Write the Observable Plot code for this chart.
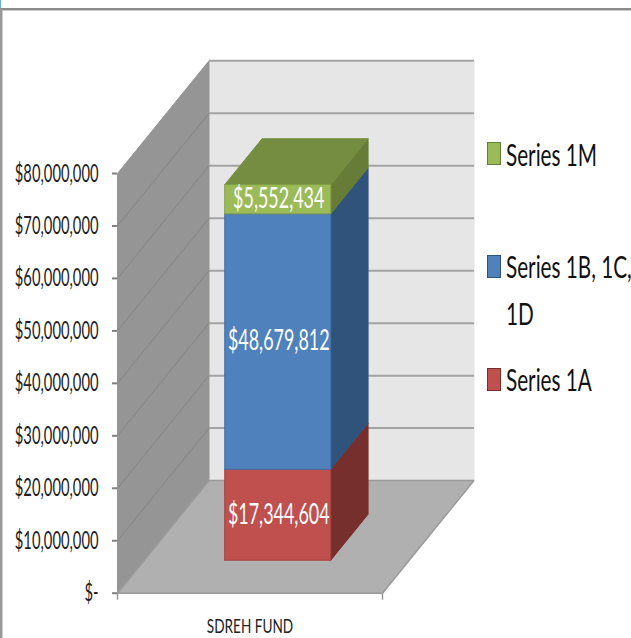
<!DOCTYPE html>
<html>
<head>
<meta charset="utf-8">
<script src="https://cdn.jsdelivr.net/npm/d3@7"></script>
<script src="https://cdn.jsdelivr.net/npm/@observablehq/plot@0.6"></script>
<style>
html,body{margin:0;padding:0;background:#fff;width:631px;height:638px;overflow:hidden}
#chart{position:absolute;left:0;top:0}
#page{position:absolute;left:0;top:8px;width:631px;height:630px;box-sizing:border-box;border-top:2px solid #8c8c8c;border-left:2px solid #999;box-shadow:inset 1px 1px 0 #ccc}
#corner{position:absolute;left:0;top:0;width:1px;height:8px;background:#6ea6e0}
.lg{position:absolute;left:506px;font:30px Lato,sans-serif;color:#111;white-space:nowrap;transform-origin:0 50%;line-height:30px}
.sw{position:absolute;left:487px;width:14px;height:23px;box-sizing:border-box;border:1.5px solid}
</style>
</head>
<body>
<div id="corner"></div>
<div id="page"></div>
<div id="chart"></div>
<script>
const seriesNames = ["Series 1A", "Series 1B, 1C, 1D", "Series 1M"];
const seriesValues = [17344604, 48679812, 5552434];
const frontColors = ["#c0504d", "#4f81bd", "#9bbb59"];
const sideColors = ["#772f2d", "#30537c", "#667c37"];
const edgeColors = ["#a8403d", "#3f6ea8", "#84a044"];
const topColor = "#758d40";
const yTicks = [0, 10e6, 20e6, 30e6, 40e6, 50e6, 60e6, 70e6, 80e6];
const categoryLabel = "SDREH FUND";

// Oblique projection of depth onto the two scales
const depthX = 0.3453, depthY = 21.47e6;
const P = (u, d, v) => ({x: u + depthX * d, y: v + depthY * d});
const barU = [0.3035, 0.7035], barD = [0.293, 0.701];

const fmt = v => v === 0 ? "$-" : "$" + d3.format(",")(v);
const face = (pts, fill, stroke = fill, strokeWidth = 1) =>
  Plot.line([...pts, pts[0]], {x: "x", y: "y", fill, stroke, strokeWidth, strokeLinejoin: "miter"});

const yMax = yTicks[yTicks.length - 1];
let base = 0;
const stacks = seriesValues.map((v, i) => {
  const s = {i, y0: base, y1: base + v, v};
  base += v;
  return s;
});
const total = base;

const marks = [
  // back wall
  face([P(0,1,0), P(1,1,0), P(1,1,yMax), P(0,1,yMax)], "#e6e6e6", "#e6e6e6"),
  // left wall
  face([P(0,0,0), P(0,1,0), P(0,1,yMax), P(0,0,yMax)], "#959595", "#959595"),
  // floor
  face([P(0,0,0), P(1,0,0), P(1,1,0), P(0,1,0)], "#b0b0b0", "#9a9a9a", 1.5),
  // gridlines
  Plot.link(yTicks.filter(t => t > 0), {
    x1: () => P(0,1,0).x, x2: () => P(1,1,0).x,
    y1: t => P(0,1,t).y, y2: t => P(0,1,t).y,
    stroke: "#a3a3a3", strokeWidth: 2
  }),
  Plot.link(yTicks.filter(t => t > 0 && t < yMax), {
    x1: () => 0, x2: () => P(0,1,0).x,
    y1: t => t, y2: t => P(0,1,t).y,
    stroke: "#858585", strokeWidth: 1
  }),
  // bar side faces
  ...stacks.map(s => face([
    P(barU[1],barD[0],s.y0), P(barU[1],barD[1],s.y0),
    P(barU[1],barD[1],s.y1), P(barU[1],barD[0],s.y1)
  ], sideColors[s.i])),
  // bar top
  face([P(barU[0],barD[0],total), P(barU[1],barD[0],total), P(barU[1],barD[1],total), P(barU[0],barD[1],total)], topColor),
  // bar front faces
  ...stacks.map(s => face([
    P(barU[0],barD[0],s.y0), P(barU[1],barD[0],s.y0),
    P(barU[1],barD[0],s.y1), P(barU[0],barD[0],s.y1)
  ], frontColors[s.i], edgeColors[s.i], 1)),
  // value labels
  Plot.text(stacks, {
    x: () => P((barU[0]+barU[1])/2, barD[0], 0).x,
    y: s => P(0, barD[0], (s.y0+s.y1)/2).y,
    dx: 1,
    text: s => "$" + d3.format(",")(s.v),
    fill: "white", fontSize: 28, className: "vlabel"
  }),
  // axes
  Plot.axisY({ticks: yTicks, tickFormat: fmt, tickSize: 5, tickPadding: 14, stroke: "#808080", strokeWidth: 2, fontSize: 25, fill: "#222", label: null, className: "ylab"}),
  Plot.axisX({ticks: [0, 1], tickFormat: () => "", tickSize: 7, stroke: "#999", strokeWidth: 1.5, label: null}),
  Plot.text([categoryLabel], {x: () => 0.5, y: () => 0, dy: 33, text: d => d, fontSize: 20, fill: "#222", className: "xlab"})
];

const chart = Plot.plot({
  width: 631, height: 638,
  marginLeft: 117, marginRight: 249, marginTop: 173, marginBottom: 45.3,
  style: {background: "transparent", fontFamily: "Lato, sans-serif", overflow: "visible"},
  x: {domain: [0, 1]},
  y: {domain: [0, yMax]},
  marks
});
document.getElementById("chart").appendChild(chart);

// Tall, condensed lettering of the original
const squeeze = (sel, f) => chart.querySelectorAll(sel).forEach(t => {
  t.setAttribute("textLength", t.getComputedTextLength() * f);
  t.setAttribute("lengthAdjust", "spacingAndGlyphs");
});
squeeze(".ylab text", 0.59);
squeeze(".vlabel text", 0.64);
squeeze(".xlab text", 0.68);

// Legend
const legend = [
  {i: 2, swTop: 142, lines: [["Series 1M", 139]]},
  {i: 1, swTop: 255, lines: [["Series 1B, 1C,", 251], ["1D", 298]]},
  {i: 0, swTop: 368, lines: [["Series 1A", 364]]}
];
legend.forEach(l => {
  const sw = document.createElement("div");
  sw.className = "sw";
  sw.style.top = l.swTop + "px";
  sw.style.background = frontColors[l.i];
  sw.style.borderColor = sideColors[l.i];
  document.body.appendChild(sw);
  l.lines.forEach(([txt, top]) => {
    const d = document.createElement("div");
    d.className = "lg";
    d.style.top = top + "px";
    d.style.transform = "scaleX(0.69)";
    d.textContent = txt;
    document.body.appendChild(d);
  });
});
</script>
</body>
</html>
